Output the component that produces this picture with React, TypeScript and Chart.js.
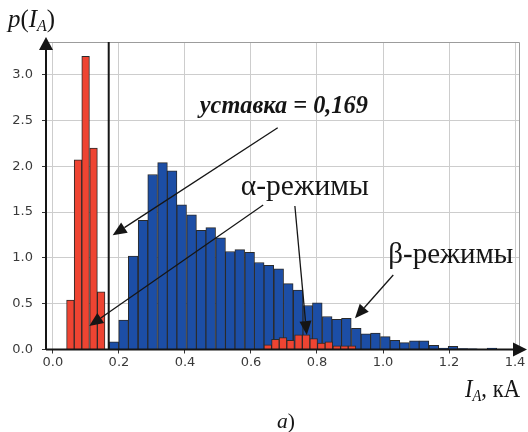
import React, { useEffect, useRef } from "react";
import { Chart, registerables } from "chart.js";

Chart.register(...registerables);

// ---- data (kA, probability density) ----
const alphaBins = [0.053, 0.076, 0.099, 0.123, 0.146, 0.651, 0.674, 0.697, 0.72, 0.744, 0.767, 0.79, 0.813, 0.836, 0.86, 0.883, 0.906];
const alphaDensity = [0.54, 2.07, 3.2, 2.2, 0.63, 0.05, 0.11, 0.13, 0.1, 0.16, 0.16, 0.12, 0.07, 0.085, 0.04, 0.04, 0.04];
const alphaBinWidth = 0.0232;

const betaBins = [
  0.185, 0.214, 0.243, 0.273, 0.302, 0.332, 0.361, 0.39, 0.42, 0.449,
  0.478, 0.508, 0.537, 0.566, 0.596, 0.625, 0.654, 0.684, 0.713, 0.743,
  0.772, 0.801, 0.831, 0.86, 0.889, 0.919, 0.948, 0.977, 1.007, 1.036,
  1.065, 1.095, 1.124, 1.154, 1.183, 1.212, 1.242, 1.271, 1.3, 1.33, 1.359,
];
const betaDensity = [
  0.085, 0.32, 1.02, 1.41, 1.91, 2.04, 1.95, 1.58, 1.47, 1.3,
  1.33, 1.22, 1.07, 1.09, 1.06, 0.95, 0.92, 0.88, 0.72, 0.65,
  0.48, 0.51, 0.36, 0.33, 0.34, 0.23, 0.17, 0.18, 0.14, 0.1,
  0.075, 0.095, 0.095, 0.045, 0.015, 0.035, 0.01, 0.008, 0.004, 0.015, 0.005,
];
const betaBinWidth = 0.0294;

const settingValue = 0.169;

const xTickValues = [0, 0.2, 0.4, 0.6, 0.8, 1.0, 1.2, 1.4];
const yTickValues = [0, 0.5, 1.0, 1.5, 2.0, 2.5, 3.0];
const xRange = [-0.021, 1.415];
const yRange = [0, 3.357];

// annotation arrows in data units: [fromX, fromY, toX, toY]
const arrowFromX = [0.681, 0.637, 0.733, 1.031];
const arrowFromY = [2.421, 1.578, 1.567, 0.813];
const arrowToX = [0.181, 0.11, 0.769, 0.915];
const arrowToY = [1.247, 0.257, 0.158, 0.341];

// annotation labels (left x, baseline y in data units)
const noteTexts = ["уставка = 0,169", "α-режимы", "β-режимы"];
const noteX = [0.445, 0.569, 1.016];
const noteY = [2.58, 1.687, 0.941];

type Run = { t: string; font: string; dy?: number };

function drawRuns(ctx: CanvasRenderingContext2D, runs: Run[], x: number, y: number, targetWidth: number) {
  let total = 0;
  for (const r of runs) {
    ctx.font = r.font;
    total += ctx.measureText(r.t).width;
  }
  const sx = targetWidth / total;
  ctx.save();
  ctx.translate(x, y);
  ctx.scale(sx, 1);
  let cx = 0;
  for (const r of runs) {
    ctx.font = r.font;
    ctx.fillText(r.t, cx, r.dy || 0);
    cx += ctx.measureText(r.t).width;
  }
  ctx.restore();
}

function arrow(ctx: CanvasRenderingContext2D, x1: number, y1: number, x2: number, y2: number, head: number, half: number, lw: number) {
  const ang = Math.atan2(y2 - y1, x2 - x1);
  const bx = x2 - head * Math.cos(ang);
  const by = y2 - head * Math.sin(ang);
  ctx.lineWidth = lw;
  ctx.beginPath();
  ctx.moveTo(x1, y1);
  ctx.lineTo(bx, by);
  ctx.stroke();
  ctx.beginPath();
  ctx.moveTo(x2, y2);
  ctx.lineTo(bx + half * Math.sin(ang), by - half * Math.cos(ang));
  ctx.lineTo(bx - half * Math.sin(ang), by + half * Math.cos(ang));
  ctx.closePath();
  ctx.fill();
}

const SERIF = "'Liberation Serif', 'Times New Roman', serif";

const overlay = {
  id: "overlay",
  beforeDatasetsDraw(chart: any) {
    const { ctx, chartArea: a } = chart;
    ctx.save();
    ctx.strokeStyle = "#9c9c9c";
    ctx.lineWidth = 1;
    ctx.beginPath();
    ctx.moveTo(a.left, a.top + 0.5);
    ctx.lineTo(a.right - 0.5, a.top + 0.5);
    ctx.lineTo(a.right - 0.5, a.bottom);
    ctx.stroke();
    ctx.restore();
  },
  afterDatasetsDraw(chart: any) {
    const { ctx, chartArea: a, scales } = chart;
    const xs = scales.x;
    const ys = scales.y;
    ctx.save();
    ctx.fillStyle = "#151515";
    ctx.strokeStyle = "#151515";

    // setting line
    const sxp = xs.getPixelForValue(settingValue);
    ctx.lineWidth = 2;
    ctx.beginPath();
    ctx.moveTo(sxp, a.bottom);
    ctx.lineTo(sxp, a.top);
    ctx.stroke();

    // axes with arrows
    arrow(ctx, a.left, a.bottom, a.left, a.top - 5, 13, 7, 2);
    arrow(ctx, a.left, a.bottom, a.right + 7, a.bottom, 14, 7, 2);

    // annotation arrows
    for (let i = 0; i < arrowFromX.length; i++) {
      arrow(
        ctx,
        xs.getPixelForValue(arrowFromX[i]),
        ys.getPixelForValue(arrowFromY[i]),
        xs.getPixelForValue(arrowToX[i]),
        ys.getPixelForValue(arrowToY[i]),
        14,
        6,
        1.3
      );
    }

    // annotation labels
    ctx.textBaseline = "alphabetic";
    ctx.textAlign = "left";
    drawRuns(ctx, [{ t: noteTexts[0], font: `italic bold 25px ${SERIF}` }], xs.getPixelForValue(noteX[0]), ys.getPixelForValue(noteY[0]), 168);
    drawRuns(ctx, [{ t: noteTexts[1], font: `29px ${SERIF}` }], xs.getPixelForValue(noteX[1]), ys.getPixelForValue(noteY[1]), 128);
    drawRuns(ctx, [{ t: noteTexts[2], font: `29px ${SERIF}` }], xs.getPixelForValue(noteX[2]), ys.getPixelForValue(noteY[2]), 125);

    // axis titles
    drawRuns(
      ctx,
      [
        { t: "p", font: `italic 25px ${SERIF}` },
        { t: "(", font: `25px ${SERIF}` },
        { t: "I", font: `italic 25px ${SERIF}` },
        { t: "A", font: `italic 16px ${SERIF}`, dy: 4 },
        { t: ")", font: `25px ${SERIF}` },
      ],
      8,
      a.top - 15,
      47
    );
    drawRuns(
      ctx,
      [
        { t: "I", font: `italic 25px ${SERIF}` },
        { t: "A", font: `italic 16px ${SERIF}`, dy: 4 },
        { t: ", кА", font: `25px ${SERIF}` },
      ],
      465,
      a.bottom + 47.5,
      55
    );
    drawRuns(
      ctx,
      [
        { t: "a", font: `italic 22px ${SERIF}` },
        { t: ")", font: `22px ${SERIF}` },
      ],
      277,
      a.bottom + 78,
      18
    );
    ctx.restore();
  },
};

export default function App() {
  const ref = useRef<HTMLCanvasElement>(null);
  useEffect(() => {
    const tickFont = { family: "'DejaVu Sans', sans-serif", size: 13 };
    const chart = new Chart(ref.current as HTMLCanvasElement, {
      type: "bar",
      data: {
        datasets: [
          {
            label: "α",
            data: alphaBins.map((x, i) => ({ x, y: alphaDensity[i] })),
            backgroundColor: "#ee4432",
            borderColor: "#2a2a2a",
            borderWidth: 1,
            stack: "hist",
            barPercentage: 1,
            categoryPercentage: 1,
          } as any,
          {
            label: "β",
            data: betaBins.map((x, i) => ({ x, y: betaDensity[i] })),
            backgroundColor: "#1c4ea6",
            borderColor: "#2a2a2a",
            borderWidth: 1,
            stack: "hist",
            barPercentage: 1,
            categoryPercentage: 1,
          } as any,
        ],
      },
      options: {
        animation: false,
        responsive: false,
        devicePixelRatio: 1,
        layout: { padding: { top: 42, right: 8, left: 0, bottom: 0 } },
        plugins: { legend: { display: false }, tooltip: { enabled: false } },
        scales: {
          x: {
            type: "linear",
            min: xRange[0],
            max: xRange[1],
            offset: false,
            afterBuildTicks: (s: any) => {
              s.ticks = xTickValues.map((v) => ({ value: v }));
            },
            afterFit: (s: any) => {
              s.height = 82.5;
            },
            grid: { offset: false, color: "#cdcdcd", lineWidth: 1, drawTicks: true, tickLength: 4, tickColor: "#333", tickWidth: 1 },
            border: { display: false },
            ticks: {
              callback: (v: any) => Number(v).toFixed(1),
              color: "#3a3a3a",
              font: tickFont,
              padding: 1,
              maxRotation: 0,
              autoSkip: false,
            },
          },
          y: {
            type: "linear",
            min: yRange[0],
            max: yRange[1],
            stacked: false,
            afterBuildTicks: (s: any) => {
              s.ticks = yTickValues.map((v) => ({ value: v }));
            },
            afterFit: (s: any) => {
              s.width = 46;
            },
            grid: { color: "#cdcdcd", lineWidth: 1, drawTicks: true, tickLength: 4, tickColor: "#333", tickWidth: 1 },
            border: { display: false },
            ticks: {
              callback: (v: any) => Number(v).toFixed(1),
              color: "#3a3a3a",
              font: tickFont,
              padding: 9,
              autoSkip: false,
            },
          },
        },
      } as any,
      plugins: [overlay],
    });
    const xs: any = chart.scales.x;
    const unit = xs.getPixelForValue(1) - xs.getPixelForValue(0);
    (chart.data.datasets[0] as any).barThickness = alphaBinWidth * unit;
    (chart.data.datasets[1] as any).barThickness = betaBinWidth * unit;
    chart.update("none");
    return () => chart.destroy();
  }, []);
  return (
    <div style={{ position: "absolute", left: 0, top: 0, width: 528, height: 432, background: "#fff" }}>
      <canvas ref={ref} width={528} height={432} style={{ display: "block", width: 528, height: 432 }} />
    </div>
  );
}
